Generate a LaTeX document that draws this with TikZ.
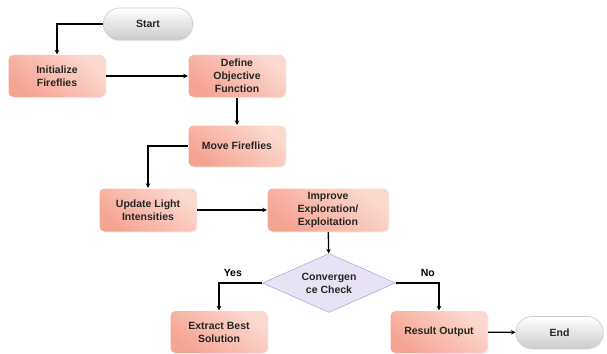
\documentclass[tikz,border=0pt]{standalone}
\usepackage{fontspec}
\setmainfont{Liberation Sans}
\usetikzlibrary{shapes.geometric,shapes.misc,shadows,arrows.meta}
\definecolor{boxtop}{HTML}{FCD9CF}
\definecolor{boxbot}{HTML}{F5A492}
\definecolor{capstop}{HTML}{FFFFFF}
\definecolor{capsbot}{HTML}{CCCCCC}
\definecolor{checkfill}{HTML}{E8E2F5}
\definecolor{checkline}{HTML}{B4ACD4}
\definecolor{txt}{HTML}{262626}
\begin{document}
\begin{tikzpicture}[x=1pt,y=1pt,>={Stealth[length=4.5pt,width=4.5pt]},line width=1.3pt,
	font=\fontsize{10.5}{13}\selectfont\bfseries,text=txt,
	box/.style={rectangle,rounded corners=5pt,align=center,inner sep=2pt,
		top color=boxtop,bottom color=boxbot,shading angle=-40,
		drop shadow={opacity=0.12,shadow xshift=1pt,shadow yshift=-1pt},
		minimum width=97pt,minimum height=42pt},
	capsule/.style={rounded rectangle,draw=capsbot,line width=0.6pt,
		top color=capstop,bottom color=capsbot,
		drop shadow={opacity=0.12,shadow xshift=1pt,shadow yshift=-1.5pt},
		minimum width=96pt,minimum height=32pt},
	check/.style={diamond,aspect=2.2,inner sep=0pt,align=center,
		draw=checkline,line width=0.6pt,fill=checkfill,
		minimum width=133pt,minimum height=59pt},
	line/.style={->,black}]
	\useasboundingbox (0,0) rectangle (607,-353);
	% nodes
	\node[capsule] (start) at (148,-24) {Start};
	\node[box] (init) at (57,-76) {Initialize\\Fireflies};
	\node[box] (define) at (237,-76) {Define\\Objective\\Function};
	\node[box,minimum height=41pt] (move) at (237,-146) {Move Fireflies};
	\node[box,minimum height=43pt] (update) at (148,-210) {Update Light\\Intensities};
	\node[box,minimum width=121pt,minimum height=43pt] (improve) at (328,-210) {Improve\\Exploration/\\Exploitation};
	\node[check] (conv) at (329,-283) {Convergen\\ce Check};
	\node[box] (extract) at (219,-332) {Extract Best\\Solution};
	\node[box] (result) at (439,-332) {Result Output};
	\node[capsule,minimum width=94pt] (end) at (559.5,-332.5) {End};
	% connectors
	\draw[line] (start.west) -| (init.north);
	\draw[line] (init) -- (define);
	\draw[line] (define) -- (move);
	\draw[line] (move.west) -| (update.north);
	\draw[line] (update) -- (improve);
	\draw[line] (improve) -- (conv);
	\draw[line] (conv.west) -| node[pos=0.34,above=2pt]{Yes} (extract.north);
	\draw[line] (conv.east) -| node[pos=0.37,above=2pt]{No} (result.north);
	\draw[line] (result) -- (end);
\end{tikzpicture}
\end{document}
